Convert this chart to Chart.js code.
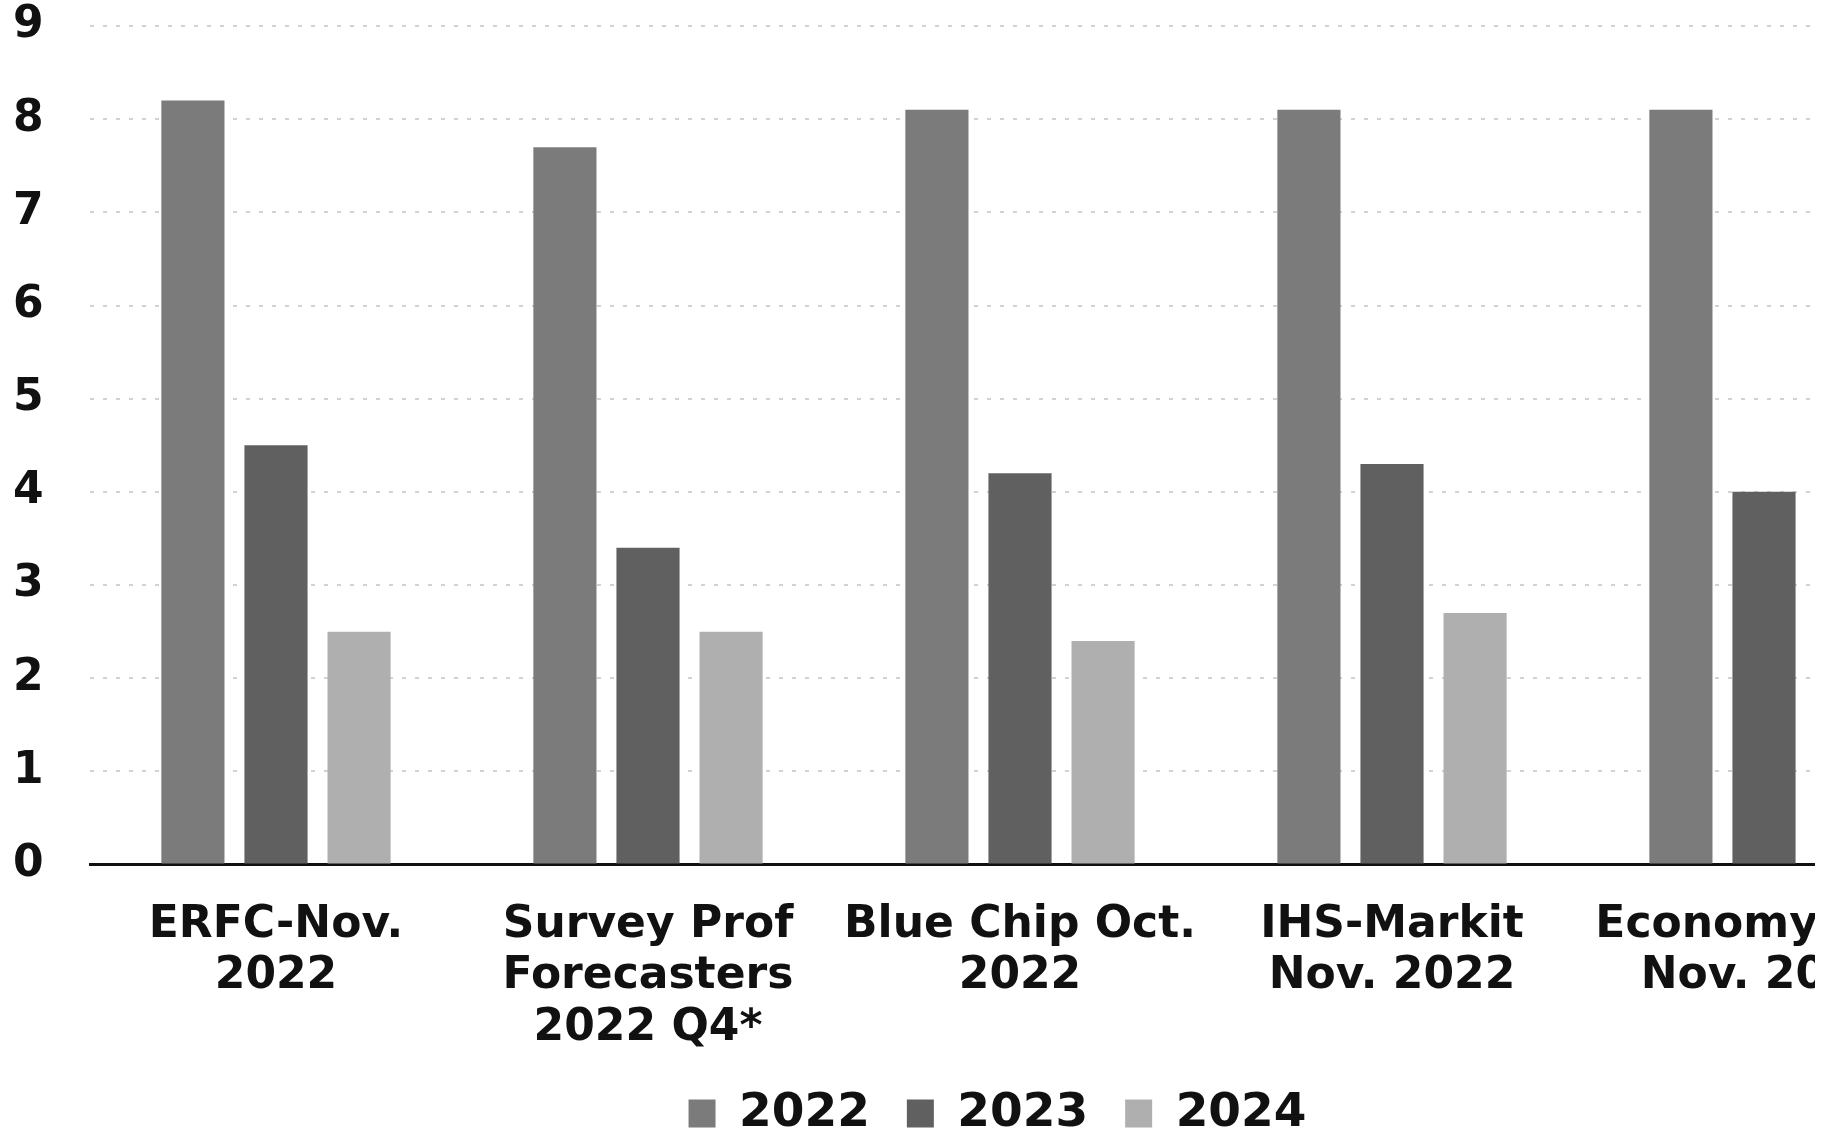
<!DOCTYPE html>
<html>
<head>
<meta charset="utf-8">
<title>Forecasts</title>
<script src="https://cdn.jsdelivr.net/npm/chart.js@4.4.1/dist/chart.umd.min.js"></script>
<style>
    html, body { margin: 0; padding: 0; background: #fff; overflow: hidden; }
    /* hình gốc bị cắt ở mép phải */
    .clip { width: 1815px; height: 1133px; overflow: hidden; }
    .chartBox { width: 1990px; height: 1133px; position: relative; }
</style>
</head>
<body>
<div class="clip"><div class="chartBox"><canvas id="myChart"></canvas></div></div>
<script>
// Nhãn nhóm (nguồn dự báo)
const sources = [
    ['ERFC-Nov.', '2022'],
    ['Survey Prof', 'Forecasters', '2022 Q4*'],
    ['Blue Chip Oct.', '2022'],
    ['IHS-Markit', 'Nov. 2022'],
    ['Economy.com', 'Nov. 2022']
];
const years = ['2022', '2023', '2024'];

// Giá trị
const values2022 = [8.2, 7.7, 8.1, 8.1, 8.1];
const values2023 = [4.5, 3.4, 4.2, 4.3, 4.0];
const values2024 = [2.5, 2.5, 2.4, 2.7, null];

const yTicks = [0, 1, 2, 3, 4, 5, 6, 7, 8, 9];

const barColors = ['#7b7b7b', '#606060', '#afafaf'];

// Chú thích: bớt khoảng trống phía trên mà vẫn giữ khoảng cách ngang giữa các mục
const LEGEND_TRIM = 50;
const LEGEND_LIFT = 36;
const LEGEND_SHIFT = 16;
const legendSpacing = {
    id: 'legendSpacing',
    afterInit(chart) {
        const legend = chart.legend;
        const fit = legend.fit;
        legend.fit = function () {
            fit.call(this);
            this.height -= LEGEND_TRIM;
        };
    },
    afterLayout(chart) {
        chart.legend.top -= LEGEND_LIFT;
        chart.legend.left += LEGEND_SHIFT;
        chart.legend.right += LEGEND_SHIFT;
    }
};

function initializeChart() {
    const ctx = document.getElementById('myChart').getContext('2d');
    const series = [values2022, values2023, values2024];

    new Chart(ctx, {
        type: 'bar',
        data: {
            labels: sources,
            datasets: years.map((y, i) => ({
                label: y,
                data: series[i],
                backgroundColor: barColors[i],
                borderWidth: 0,
                categoryPercentage: 0.67,
                barPercentage: 0.76
            }))
        },
        plugins: [legendSpacing],
        options: {
            animation: false,
            responsive: true,
            maintainAspectRatio: false,
            layout: {
                padding: { left: 13, right: 40, top: 26, bottom: 0 }
            },
            plugins: {
                tooltip: { enabled: false },
                legend: {
                    position: 'bottom',
                    labels: {
                        boxWidth: 27,
                        boxHeight: 28,
                        padding: 37,
                        color: '#111',
                        font: { family: 'DejaVu Sans', size: 47, weight: 'bold', lineHeight: 0.8 }
                    }
                }
            },
            scales: {
                x: {
                    grid: { display: false, drawTicks: false },
                    border: { display: true, color: '#111', width: 3 },
                    ticks: {
                        color: '#111',
                        padding: 35,
                        maxRotation: 0,
                        autoSkip: false,
                        font: { family: 'DejaVu Sans', size: 44, weight: 'bold', lineHeight: 1.17 }
                    }
                },
                y: {
                    min: 0,
                    max: 9,
                    afterBuildTicks: axis => {
                        axis.ticks = yTicks.map(v => ({ value: v }));
                    },
                    afterFit: axis => {
                        axis.width = 77; // nhãn trục y nằm sát mép trái
                    },
                    grid: {
                        color: '#d2d2d2',
                        lineWidth: 2,
                        drawTicks: false
                    },
                    border: { display: false, dash: [4, 9] },
                    ticks: {
                        color: '#111',
                        padding: 0,
                        crossAlign: 'far',
                        font: { family: 'DejaVu Sans', size: 44, weight: 'bold', lineHeight: 0.9 }
                    }
                }
            }
        }
    });
}

document.addEventListener('DOMContentLoaded', initializeChart);
</script>
</body>
</html>
